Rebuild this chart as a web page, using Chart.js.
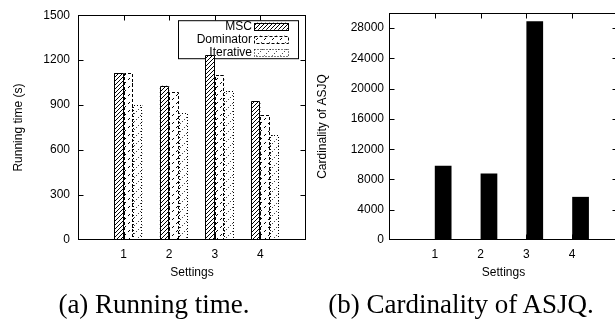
<!DOCTYPE html>
<html>
<head>
<meta charset="utf-8">
<script src="https://cdn.jsdelivr.net/npm/chart.js@4"></script>
<style>
  html, body { margin: 0; padding: 0; background: #fff; overflow: hidden; }
  #page { position: relative; width: 615px; height: 320px; overflow: hidden; }
  canvas { position: absolute; top: 0; }
  #timeChart { left: 0; }
  #cardChart { left: 310px; }
  .caption {
    position: absolute; top: 290px; white-space: nowrap; color: #000;
    font: 27px/28px "Liberation Serif", "Times New Roman", serif;
    transform: translateX(-50%);
  }
</style>
</head>
<body>
<div id="page">
  <canvas id="timeChart" width="310" height="290"></canvas>
  <canvas id="cardChart" width="310" height="290"></canvas>
  <div class="caption" style="left:154px">(a) Running time.</div>
  <div class="caption" style="left:461px">(b) Cardinality of ASJQ.</div>
</div>
<script>
const settings = [1, 2, 3, 4];
const mscTime = [1115, 1030, 1235, 928];
const dominatorTime = [1112, 985, 1100, 833];
const iterativeTime = [900, 846, 992, 700];
const asjqCardinality = [9800, 8800, 28900, 5700];
const timeTicks = [0, 300, 600, 900, 1200, 1500];
const cardTicks = [0, 4000, 8000, 12000, 16000, 20000, 24000, 28000];

Chart.defaults.font.family = '"Liberation Sans", Arial, sans-serif';
Chart.defaults.font.size = 12;
Chart.defaults.color = "#000";

// hatch fill: diagonal "/" lines in a square tile
function makeHatch(size, dash) {
  const c = document.createElement("canvas");
  c.width = c.height = size;
  const g = c.getContext("2d");
  g.fillStyle = "#fff";
  g.fillRect(0, 0, size, size);
  g.strokeStyle = "#000";
  g.lineWidth = 1;
  g.setLineDash(dash);
  g.beginPath();
  g.moveTo(0, size);
  g.lineTo(size, 0);
  if (!dash.length) {
    g.moveTo(-1, 1);
    g.lineTo(1, -1);
    g.moveTo(size - 1, size + 1);
    g.lineTo(size + 1, size - 1);
  }
  g.stroke();
  return g.createPattern(c, "repeat");
}

const mscFill = makeHatch(4, []);
const dominatorFill = makeHatch(8, [2.83, 2.83]);
const iterativeFill = makeHatch(8, [1, 1.83]);

// gnuplot-like frame, inward ticks and dashed bar edges
const gnuFrame = {
  id: "gnuFrame",
  beforeDatasetsDraw(chart) {
    const keys = chart.data.datasets.filter((d) => d.label);
    if (!chart.options.showKey) return;
    const { ctx, chartArea: a } = chart;
    const top = a.top + 5;
    ctx.save();
    ctx.strokeStyle = "#000";
    ctx.lineWidth = 1;
    ctx.strokeRect(Math.round(a.right - 128) + 0.5, top + 0.5, 120, 38);
    ctx.font = '12px "Liberation Sans", Arial, sans-serif';
    ctx.textAlign = "right";
    ctx.textBaseline = "middle";
    ctx.fillStyle = "#000";
    keys.forEach((d, i) => {
      const y = top + 6 + i * 13;
      ctx.fillText(d.label, a.right - 54, y);
      const sx = Math.round(a.right - 52) + 0.5;
      ctx.fillStyle = d.backgroundColor;
      ctx.fillRect(sx, y - 3.5, 34, 7);
      ctx.setLineDash(d.edgeDash || []);
      ctx.strokeRect(sx, Math.round(y - 3.5) + 0.5, 34, 7);
      ctx.setLineDash([]);
      ctx.fillStyle = "#000";
    });
    ctx.restore();
  },
  afterDatasetsDraw(chart) {
    const { ctx, chartArea: a, scales } = chart;
    ctx.save();
    ctx.strokeStyle = "#000";
    ctx.lineWidth = 1;

    chart.data.datasets.forEach((ds, i) => {
      if (!ds.edgeDash) return;
      ctx.setLineDash(ds.edgeDash);
      chart.getDatasetMeta(i).data.forEach((bar) => {
        const { x, y, base, width } = bar.getProps(["x", "y", "base", "width"], true);
        const l = Math.round(x - width / 2) + 0.5;
        const r = Math.round(x + width / 2) - 0.5;
        const t = Math.round(y) + 0.5;
        ctx.beginPath();
        ctx.moveTo(l, base);
        ctx.lineTo(l, t);
        ctx.lineTo(r, t);
        ctx.lineTo(r, base);
        ctx.stroke();
      });
    });
    ctx.setLineDash([]);

    const L = Math.round(a.left) + 0.5, R = Math.round(a.right) - 0.5;
    const T = Math.round(a.top) + 0.5, B = Math.round(a.bottom) - 0.5;
    ctx.strokeRect(L, T, R - L, B - T);

    ctx.beginPath();
    scales.y.ticks.forEach((t) => {
      const py = Math.round(scales.y.getPixelForValue(t.value)) + 0.5;
      if (py <= T + 1 || py >= B - 1) return;
      ctx.moveTo(L, py); ctx.lineTo(L + 5, py);
      ctx.moveTo(R, py); ctx.lineTo(R - 5, py);
    });
    scales.x.ticks.forEach((t) => {
      const px = Math.round(scales.x.getPixelForValue(t.value)) + 0.5;
      ctx.moveTo(px, T); ctx.lineTo(px, T + 5);
      ctx.moveTo(px, B); ctx.lineTo(px, B - 5);
    });
    ctx.stroke();
    ctx.restore();
  },
};

function xAxis() {
  return {
    type: "linear",
    min: 0,
    max: 5,
    offset: false,
    grid: { display: false, drawTicks: false, offset: false },
    border: { display: false },
    afterBuildTicks: (s) => { s.ticks = settings.map((v) => ({ value: v })); },
    afterFit: (s) => { s.height = 50; },
    ticks: { padding: 7, callback: (v) => String(v) },
    title: { display: true, text: "Settings", padding: { top: 0, bottom: 10 } },
  };
}

function yAxis(max, ticks, width, pad, titleText, titlePad) {
  return {
    min: 0,
    max: max,
    grid: { display: false, drawTicks: false },
    border: { display: false },
    afterBuildTicks: (s) => { s.ticks = ticks.map((v) => ({ value: v })); },
    afterFit: (s) => { s.width = width; },
    ticks: { padding: pad, callback: (v) => String(v) },
    title: { display: true, text: titleText, padding: { top: titlePad, bottom: 0 } },
  };
}

function points(values) {
  return settings.map((s, i) => ({ x: s, y: values[i] }));
}

// running time chart (first dataset is the empty gnuplot slot)
new Chart(document.getElementById("timeChart"), {
  type: "bar",
  data: {
    datasets: [
      { label: "", data: [], backgroundColor: "rgba(0,0,0,0)" },
      { label: "MSC", data: points(mscTime), backgroundColor: mscFill, borderWidth: 0, edgeDash: [] },
      { label: "Dominator", data: points(dominatorTime), backgroundColor: dominatorFill, borderWidth: 0, edgeDash: [3, 2] },
      { label: "Iterative", data: points(iterativeTime), backgroundColor: iterativeFill, borderWidth: 0, edgeDash: [1, 2] },
    ],
  },
  options: {
    responsive: false,
    animation: false,
    events: [],
    showKey: true,
    layout: { padding: { top: 13, right: 4, left: 0, bottom: 0 } },
    datasets: { bar: { categoryPercentage: 0.825, barPercentage: 1 } },
    plugins: { legend: { display: false }, tooltip: { enabled: false } },
    scales: {
      x: xAxis(),
      y: yAxis(1500, timeTicks, 78, 8, "Running time (s)", 11),
    },
  },
  plugins: [gnuFrame],
});

// cardinality chart
new Chart(document.getElementById("cardChart"), {
  type: "bar",
  data: {
    datasets: [
      { label: "", data: [], backgroundColor: "rgba(0,0,0,0)" },
      { label: "ASJQ", data: points(asjqCardinality), backgroundColor: "#000", borderWidth: 0 },
    ],
  },
  options: {
    responsive: false,
    animation: false,
    events: [],
    showKey: false,
    layout: { padding: { top: 13, right: 2, left: 0, bottom: 0 } },
    datasets: { bar: { categoryPercentage: 0.73, barPercentage: 1 } },
    plugins: { legend: { display: false }, tooltip: { enabled: false } },
    scales: {
      x: xAxis(),
      y: yAxis(30000, cardTicks, 79, 5, "Cardinality of ASJQ", 5),
    },
  },
  plugins: [gnuFrame],
});
</script>
</body>
</html>
